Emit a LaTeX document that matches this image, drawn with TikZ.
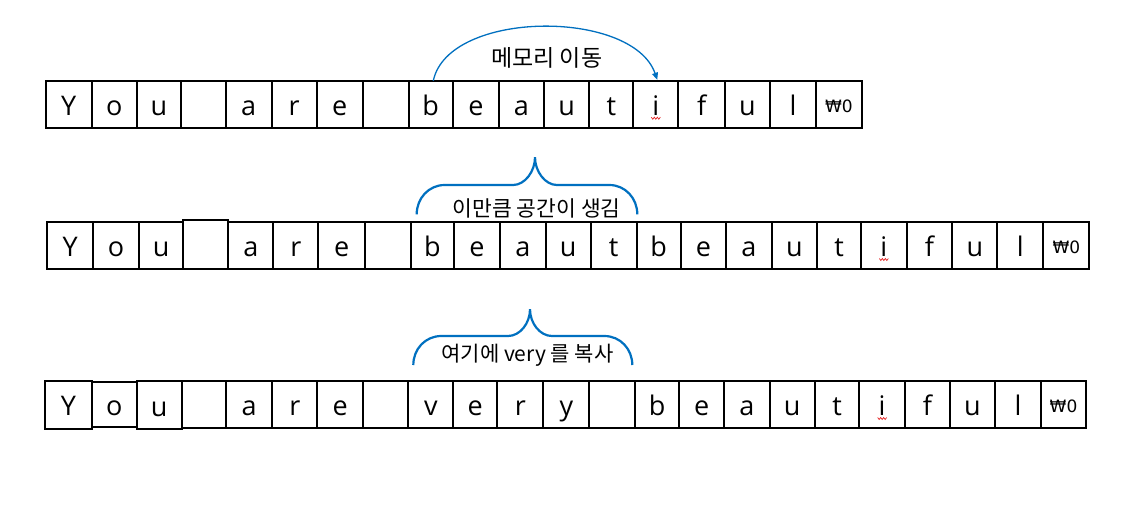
\documentclass[tikz,border=0pt]{standalone}
\usepackage{fontspec}
\setmainfont{Open Sans}
\newfontfamily\krfont{Noto Sans CJK KR}
\newfontfamily\wonfont{DejaVu Sans}
\usetikzlibrary{arrows.meta}
\definecolor{arcblue}{RGB}{0,112,192}
\definecolor{squig}{RGB}{230,40,40}
\begin{document}
\begin{tikzpicture}[x=1pt,y=-1pt,
  cell/.style={draw=black,line width=2pt,inner sep=0pt,outer sep=0pt,
    font=\fontsize{27}{30}\selectfont,text height=30pt,text depth=8pt},
  endcell/.style={cell,font=\wonfont\fontsize{17}{20}\selectfont,text height=20.6pt,text depth=5pt},
  arcline/.style={draw=arcblue,line width=1.3pt,-{Triangle[length=7pt,width=6pt]}},
  bracepath/.style={draw=arcblue,line width=2.2pt},
  krlabel/.style={inner sep=0pt,font=\krfont\fontsize{21}{25}\selectfont},
  squiggle/.style={draw=squig,line width=0.7pt}]
\fill[white] (0,0) rectangle (1127,507);
\useasboundingbox (0,0) rectangle (1127,507);

% ---------- row 1 ----------
\foreach \l/\r/\s [count=\i] in {45.5/91.7/Y,91.7/136.7/o,136.7/181.3/u,181.3/225.7/{},225.7/271.7/a,271.7/316.7/r,316.7/362.7/e,362.7/408.5/{},408.5/452.7/b,452.7/499/e,499/544/a,544/589.3/u,589.3/633.3/t,633.3/678.3/i,678.3/725/f,725/770/u,770/816/l}
  \node[cell,minimum width={(\r-\l)*1pt},minimum height=47pt] (ra\i) at ({(\l+\r)/2},104.2) {\s};
\node[endcell,minimum width=45.7pt,minimum height=47pt] (ra18) at (838.85,104.2) {₩0};

% ---------- row 2 ----------
\foreach \l/\r/\s [count=\i] in {47.3/93.3/Y,93.3/139/o,139/183.3/u}
  \node[cell,minimum width={(\r-\l)*1pt},minimum height=47pt] (rb\i) at ({(\l+\r)/2},245.5) {\s};
\node[cell,minimum width=45pt,minimum height=49pt] (rb4) at (205.8,244.5) {};
\foreach \l/\r/\s [count=\i from 5] in {228.3/273.3/a,273.3/318.3/r,318.3/365/e,365/410.7/{},410.7/454/b,454/500/e,500/545.7/a,545.7/590.7/u,590.7/636.7/t,636.7/680.7/b,680.7/726/e,726/771.5/a,771.5/817.3/u,817.3/861/t,861/906.7/i,906.7/952.3/f,952.3/997.3/u,997.3/1043.3/l}
  \node[cell,minimum width={(\r-\l)*1pt},minimum height=47pt] (rb\i) at ({(\l+\r)/2},245.5) {\s};
\node[endcell,minimum width=46pt,minimum height=47pt] (rb23) at (1066.3,245.5) {₩0};

% ---------- row 3 ----------
\node[cell,minimum width=46.4pt,minimum height=48.3pt] (rc1) at (68.5,404.85) {Y};
\node[cell,minimum width=45pt,minimum height=45pt] (rc2) at (114.2,404.8) {o};
\node[cell,minimum width=45pt,minimum height=48.6pt] (rc3) at (159.2,405) {u};
\foreach \l/\r/\s [count=\i from 4] in {181.7/226/{},226/272.3/a,272.3/317.3/r,317.3/363.3/e,363.3/408.3/{},408.3/453.3/v,453.3/497.3/e,497.3/543.3/r,543.3/589.3/y,589.3/635/{},635/679.3/b,679.3/724/e,724/769.5/a,769.5/815/u,815/859.3/t,859.3/905/i,905/950/f,950/995/u,995/1041/l}
  \node[cell,minimum width={(\r-\l)*1pt},minimum height=47.6pt] (rc\i) at ({(\l+\r)/2},404.5) {\s};
\node[endcell,minimum width=45pt,minimum height=47.6pt] (rc23) at (1063.5,404.5) {₩0};

% ---------- spelling squiggles under i ----------
\foreach \n in {ra14,rb19,rc19}
  \draw[squiggle] (\n.center) ++(-4.5,13) -- ++(1.5,2) -- ++(1.5,-2) -- ++(1.5,2) -- ++(1.5,-2) -- ++(1.5,2) -- ++(1.5,-2);

% ---------- memory move arc ----------
\draw[arcline] ([xshift=2.7pt]ra9.north) .. controls +(15,-71) and +(-25,-71) .. ([xshift=1.5pt,yshift=1pt]ra14.north);
\node[krlabel,font=\krfont\fontsize{23}{27}\selectfont] (lab1) at (546.7,58) {메모리 이동};

% ---------- brace 2 ----------
\coordinate (b2l) at (416.7,214.3);
\draw[bracepath] (b2l) .. controls +(0,-16) and +(-16,0) .. ++(28,-29.3)
  -- ++(68.3,0) .. controls +(12,0) and +(0,14) .. ++(22,-27.7)
  .. controls +(0,14) and +(-12,0) .. ++(22,27.7)
  -- ++(52.3,0) .. controls +(16,0) and +(0,-16) .. ++(28,29.3);
\node[krlabel,font=\krfont\fontsize{21.5}{25}\selectfont] (lab2) at (536.7,208.3) {이만큼 공간이 생김};

% ---------- brace 3 ----------
\coordinate (b3l) at (413.3,365);
\draw[bracepath] (b3l) .. controls +(0,-16) and +(-16,0) .. ++(28,-29)
  -- ++(66.7,0) .. controls +(12,0) and +(0,14) .. ++(22,-26.7)
  .. controls +(0,14) and +(-12,0) .. ++(22,26.7)
  -- ++(52.3,0) .. controls +(16,0) and +(0,-16) .. ++(28,29);
\node[krlabel] (lab3) at (527.5,355.5) {여기에 very 를 복사};
\end{tikzpicture}
\end{document}
